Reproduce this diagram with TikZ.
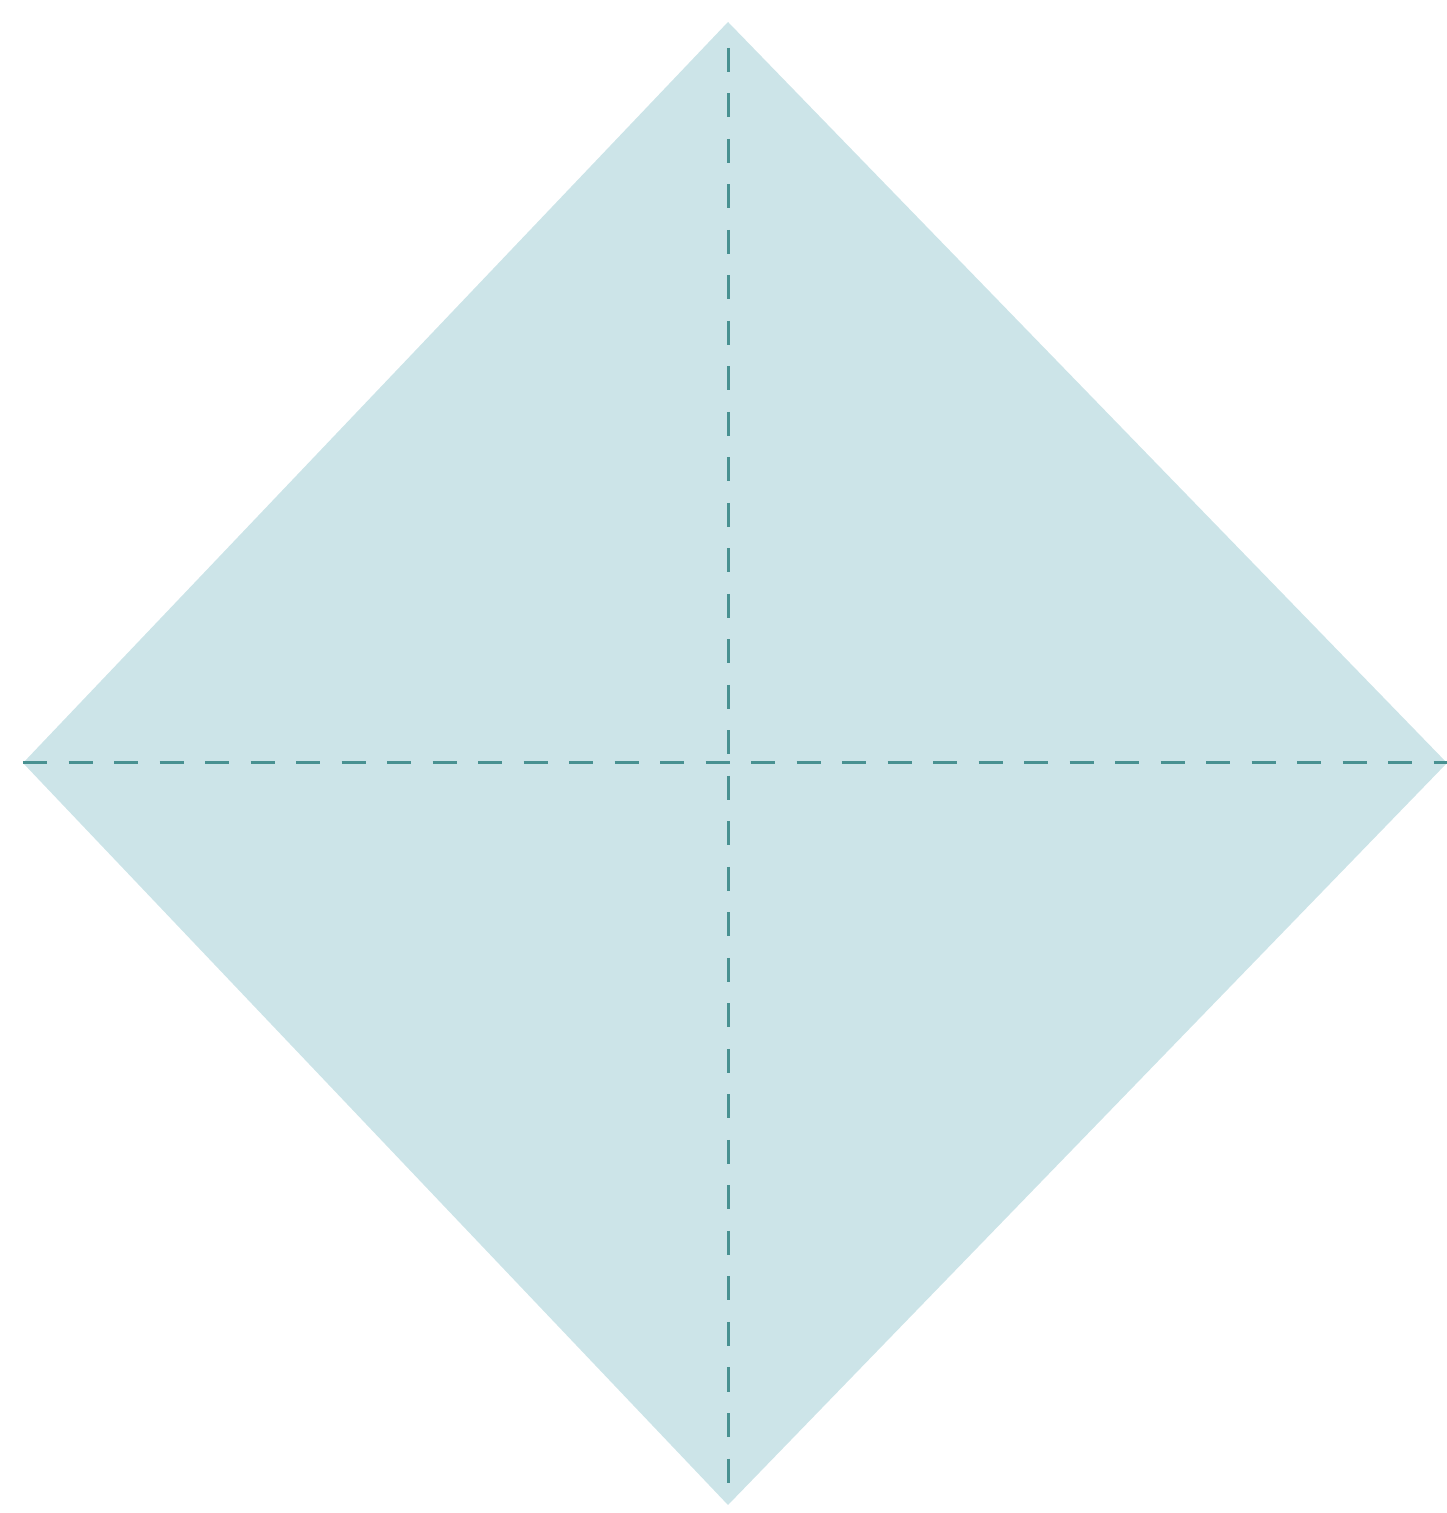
\documentclass[tikz,border=0pt]{standalone}
\usepackage{tikz}
\usepackage{xcolor}
\definecolor{foldfill}{RGB}{204,228,232}
\definecolor{foldline}{RGB}{72,145,145}
\tikzset{
    paper/.style={
        fill=foldfill,draw=none
    },
    crease/.style={
        draw=foldline,line width=0.85pt,
        dash pattern=on 0.24cm off 0.215cm
    }
}

\begin{document}
\begin{tikzpicture}

\useasboundingbox (0,0) rectangle (14.47,15.13);

\coordinate (top) at (7.28,14.91);
\coordinate (bot) at (7.28,0.08);
\coordinate (lft) at (0.23,7.50);
\coordinate (rgt) at (14.47,7.50);

\fill[paper] (top) -- (rgt) -- (bot) -- (lft) -- cycle;

\draw[crease] (lft) -- (rgt);
\draw[crease,dash phase=0.24cm,shorten <=0.045cm,shorten >=0.05cm] (top) -- (bot);

\end{tikzpicture}
\end{document}
